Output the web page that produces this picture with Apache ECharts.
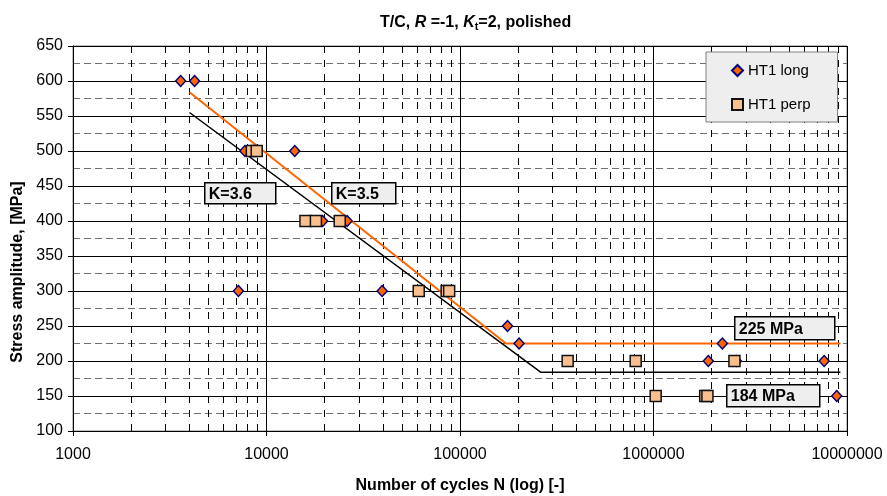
<!DOCTYPE html>
<html lang="en">
<head>
<meta charset="UTF-8">
<title>T/C S-N chart</title>
<script src="https://cdn.jsdelivr.net/npm/echarts@6/dist/echarts.min.js"></script>
<style>
html, body { margin: 0; padding: 0; background: #fff; }
#chart { width: 887px; height: 496px; }
</style>
</head>
<body>
<div id="chart"></div>
<script>
// test points: cycles N and stress amplitude S
var longN = [3600, 4250, 7730, 14000, 19500, 26100, 7160, 39600, 176000, 202000, 2270000, 1920000, 2680000, 7620000, 8850000];
var longS = [600, 600, 500, 500, 400, 400, 300, 300, 250, 225, 225, 200, 200, 200, 150];
var perpN = [8400, 8900, 15900, 18000, 23900, 61200, 85300, 87900, 360000, 809000, 2620000, 1026000, 1850000, 1900000];
var perpS = [500, 500, 400, 400, 400, 300, 300, 300, 200, 200, 200, 150, 150, 150];

// fitted curves (sloped part + fatigue limit)
var fitOrangeN = [4000, 172700, 9250000];
var fitOrangeS = [584, 225, 225];
var fitBlackN = [4000, 261000, 9250000];
var fitBlackS = [555, 184, 184];

var yTicks = [100, 150, 200, 250, 300, 350, 400, 450, 500, 550, 600, 650];
var decades = [1000, 10000, 100000, 1000000];

function pairs(xs, ys) {
  return xs.map(function (x, i) { return [x, ys[i]]; });
}

// dashed minor verticals at 2..9 x each decade
var minorX = [];
decades.forEach(function (d) {
  for (var k = 2; k <= 9; k++) minorX.push({ xAxis: k * d });
});

var chart = echarts.init(document.getElementById('chart'));

var FONT = '"Liberation Sans", Arial, sans-serif';
var boxFont = 'bold 16px ' + FONT;
function labelBox(x, y, w, h, txt) {
  return {
    type: 'group', left: x, top: y, z: 50,
    children: [
      { type: 'rect', z: 50, shape: { x: 0, y: 0, width: w, height: h },
        style: { fill: '#eeeeee', stroke: '#000', lineWidth: 1.5 } },
      { type: 'text', z: 51, x: 4, y: h / 2 + 1,
        style: { text: txt, font: boxFont, fill: '#000', verticalAlign: 'middle' } }
    ]
  };
}

var option = {
  backgroundColor: '#fff',
  animation: false,
  textStyle: { fontFamily: FONT },
  title: {
    left: 375, top: 8,
    text: '{b|T/C, }{i|R}{b| =-1, }{i|K}{s|t}{b|=2, polished}',
    textStyle: {
      fontSize: 16, fontWeight: 'bold',
      rich: {
        b: { fontSize: 16, fontWeight: 'bold', color: '#000', fontFamily: FONT },
        i: { fontSize: 16, fontWeight: 'bold', fontStyle: 'italic', color: '#000', fontFamily: FONT },
        s: { fontSize: 11, fontWeight: 'bold', color: '#000', fontFamily: FONT, verticalAlign: 'bottom', padding: [8, 0, 0, 0] }
      }
    }
  },
  grid: {
    left: 73, right: 40, top: 46, bottom: 65,
    outerBoundsMode: 'none', containLabel: false,
    show: true, borderColor: '#808080', borderWidth: 1
  },
  legend: {
    orient: 'vertical', left: 706, top: 52,
    backgroundColor: '#eeeeee', borderColor: '#808080', borderWidth: 1,
    padding: [11, 27, 10, 25], itemGap: 19, itemWidth: 11, itemHeight: 11,
    textStyle: { fontSize: 15, color: '#000', fontFamily: FONT },
    data: ['HT1 long', 'HT1 perp']
  },
  xAxis: {
    type: 'log', logBase: 10, min: 1000, max: 10000000,
    name: 'Number of cycles N (log) [-]', nameLocation: 'middle', nameGap: 47,
    nameTextStyle: { fontSize: 16, fontWeight: 'bold', color: '#000' },
    axisLine: { lineStyle: { color: '#000', width: 1 } },
    axisTick: { show: true, length: 5, lineStyle: { color: '#000' } },
    axisLabel: { fontSize: 16, color: '#000', margin: 16,
      formatter: function (v) { return String(Math.round(v)); } },
    splitLine: { show: true, lineStyle: { color: '#000', width: 1 } }
  },
  yAxis: {
    type: 'value', min: 100, max: 650, interval: 50,
    axisLine: { show: true, lineStyle: { color: '#000', width: 1 } },
    axisTick: { show: true, length: 5, lineStyle: { color: '#000' } },
    axisLabel: { fontSize: 16, color: '#000', margin: 10,
      formatter: function (v) { return yTicks.indexOf(v) >= 0 ? String(v) : ''; } },
    splitLine: { show: true, lineStyle: { color: '#000', width: 1 } },
    minorTick: { show: false, splitNumber: 2 },
    minorSplitLine: { show: true, lineStyle: { color: '#707070', width: 1.2, type: [7, 4] } }
  },
  graphic: [
    { type: 'text', x: 18, y: 272, rotation: Math.PI / 2, z: 50,
      style: { text: 'Stress amplitude, [MPa]', font: 'bold 16px ' + FONT, fill: '#000',
        align: 'center', verticalAlign: 'middle' } },
    labelBox(204, 182, 71, 21, 'K=3.6'),
    labelBox(331, 182, 64, 21, 'K=3.5'),
    labelBox(734, 316, 100, 23, '225 MPa'),
    labelBox(726, 384, 93, 22, '184 MPa')
  ],
  series: [
    {
      name: 'minor', type: 'line', data: [], z: 0, silent: true,
      markLine: {
        silent: true, symbol: 'none', label: { show: false }, z: 1,
        lineStyle: { color: '#000', width: 1, type: [7, 7] },
        data: minorX
      }
    },
    {
      name: 'fit225', type: 'line', data: pairs(fitOrangeN, fitOrangeS),
      showSymbol: false, silent: true, z: 3,
      lineStyle: { color: '#ff6600', width: 2 }
    },
    {
      name: 'fit184', type: 'line', data: pairs(fitBlackN, fitBlackS),
      showSymbol: false, silent: true, z: 3,
      lineStyle: { color: '#000', width: 1.5 }
    },
    {
      name: 'HT1 long', type: 'scatter', data: pairs(longN, longS),
      symbol: 'diamond', symbolSize: [10, 11], z: 5,
      itemStyle: { color: '#ff6600', borderColor: '#000080', borderWidth: 1.5, opacity: 1 }
    },
    {
      name: 'HT1 perp', type: 'scatter', data: pairs(perpN, perpS),
      symbol: 'rect', symbolSize: 11, z: 6,
      itemStyle: { color: '#f9bf8f', borderColor: '#111', borderWidth: 1.5, opacity: 1 }
    }
  ]
};

chart.setOption(option);
</script>
</body>
</html>
